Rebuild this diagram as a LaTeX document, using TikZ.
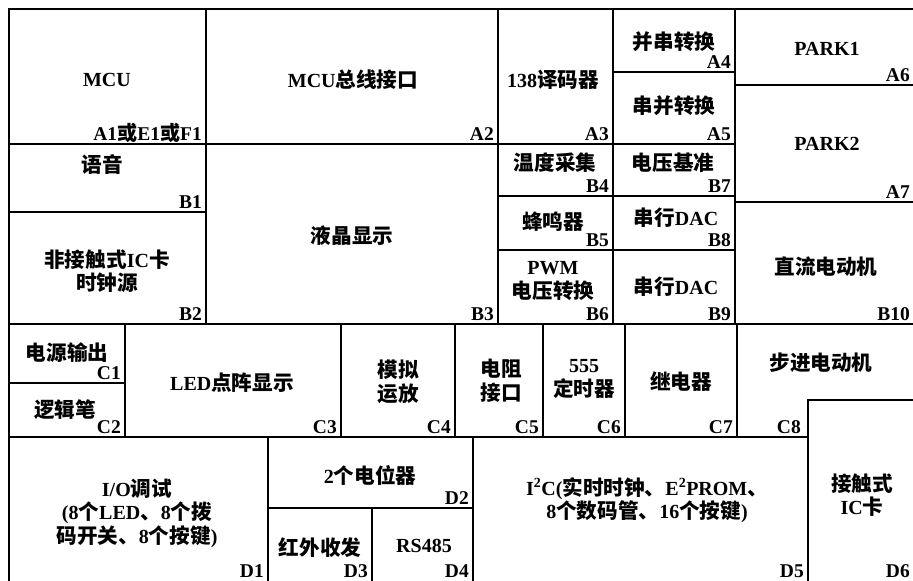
\documentclass[tikz,border=0pt]{standalone}
\usepackage{fontspec}
\setmainfont{Liberation Serif}
\newfontfamily\cjk{Noto Sans CJK SC}[Scale=1.03]
\newcommand\zh[1]{{\cjk #1}}
\begin{document}
\begin{tikzpicture}[x=1pt,y=-1pt,
  grid/.style={line width=2pt,line cap=rect},
  txt/.style={inner sep=0pt,align=center,font=\bfseries\fontsize{20}{23.5}\selectfont},
  lbl/.style={inner sep=0pt,anchor=base east,font=\bfseries\fontsize{19.5}{23}\selectfont}]
\useasboundingbox (0,0) rectangle (913,581);
% frame and dividers
\draw[grid] (9,581) -- (9,9) -- (913,9);
\draw[grid] (9,144) -- (735,144);
\draw[grid] (613,72) -- (735,72);
\draw[grid] (735,85) -- (913,85);
\draw[grid] (735,202) -- (913,202);
\draw[grid] (9,212) -- (206,212);
\draw[grid] (498,196) -- (735,196);
\draw[grid] (498,250) -- (735,250);
\draw[grid] (9,324) -- (913,324);
\draw[grid] (9,383) -- (125,383);
\draw[grid] (9,437) -- (808,437);
\draw[grid] (808,581) -- (808,400) -- (913,400);
\draw[grid] (268,508) -- (473,508);
\draw[grid] (206,9) -- (206,324);
\draw[grid] (498,9) -- (498,324);
\draw[grid] (613,9) -- (613,324);
\draw[grid] (735,9) -- (735,324);
\foreach \x in {125,341,455,543,625,737} \draw[grid] (\x,324) -- (\x,437);
\draw[grid] (268,437) -- (268,581);
\draw[grid] (372,508) -- (372,581);
\draw[grid] (473,437) -- (473,581);
% texts
\node[txt] (mcu) at (107,80) {MCU};
\node[txt] (bus) at (353,80) {MCU\zh{总线接口}};
\node[txt] (dec) at (553,80) {138\zh{译码器}};
\node[txt] (ps) at (674,42) {\zh{并串转换}};
\node[txt] (sp) at (674,106) {\zh{串并转换}};
\node[txt] (park1) at (827,49) {PARK1};
\node[txt] (park2) at (827,144) {PARK2};
\node[txt] (temp) at (555,163) {\zh{温度采集}};
\node[txt] (vref) at (673,163) {\zh{电压基准}};
\node[txt] (voice) at (102,165) {\zh{语音}};
\node[txt] (rfid) at (107,271) {\zh{非接触式}IC\zh{卡}\\\zh{时钟源}};
\node[txt] (lcd) at (352,236) {\zh{液晶显示}};
\node[txt] (buzz) at (553,222) {\zh{蜂鸣器}};
\node[txt] (dac1) at (676,218) {\zh{串行}DAC};
\node[txt] (pwm) at (553,281) {PWM\\\zh{电压转换}};
\node[txt] (dac2) at (676,287) {\zh{串行}DAC};
\node[txt] (dcm) at (826,267) {\zh{直流电动机}};
\node[txt] (pwr) at (67,353) {\zh{电源输出}};
\node[txt] (pen) at (65,410) {\zh{逻辑笔}};
\node[txt] (led) at (232,383) {LED\zh{点阵显示}};
\node[txt] (amp) at (398,382) {\zh{模拟}\\\zh{运放}};
\node[txt] (res) at (501,381) {\zh{电阻}\\\zh{接口}};
\node[txt] (tmr) at (584,379) {555\\\zh{定时器}};
\node[txt] (rly) at (681,382) {\zh{继电器}};
\node[txt] (step) at (821,363) {\zh{步进电动机}};
\node[txt] (io) at (137,513) {I/O\zh{调试}\\(8\zh{个}LED\zh{、}8\zh{个拨}\\\zh{码开关、}8\zh{个按键})};
\node[txt] (pot) at (370,475) {2\zh{个电位器}};
\node[txt] (ir) at (320,548) {\zh{红外收发}};
\node[txt] (rs) at (424,546) {RS485};
\node[txt] (iic) at (647,500) {I\textsuperscript{2}C(\zh{实时时钟、}E\textsuperscript{2}PROM\zh{、}\\8\zh{个数码管、}16\zh{个按键})};
\node[txt] (card) at (862,495) {\zh{接触式}\\IC\zh{卡}};
% labels
\node[lbl] (la1) at (202,140) {A1\zh{或}E1\zh{或}F1};
\node[lbl] (la2) at (494,140) {A2};
\node[lbl] (la3) at (609,140) {A3};
\node[lbl] (la4) at (731,68) {A4};
\node[lbl] (la5) at (731,140) {A5};
\node[lbl] (la6) at (910,81) {A6};
\node[lbl] (la7) at (910,198) {A7};
\node[lbl] (lb1) at (202,208) {B1};
\node[lbl] (lb2) at (202,320) {B2};
\node[lbl] (lb3) at (494,320) {B3};
\node[lbl] (lb4) at (609,192) {B4};
\node[lbl] (lb5) at (609,246) {B5};
\node[lbl] (lb6) at (609,320) {B6};
\node[lbl] (lb7) at (731,192) {B7};
\node[lbl] (lb8) at (731,246) {B8};
\node[lbl] (lb9) at (731,320) {B9};
\node[lbl] (lb10) at (910,320) {B10};
\node[lbl] (lc1) at (121,379) {C1};
\node[lbl] (lc2) at (121,433) {C2};
\node[lbl] (lc3) at (337,433) {C3};
\node[lbl] (lc4) at (451,433) {C4};
\node[lbl] (lc5) at (539,433) {C5};
\node[lbl] (lc6) at (621,433) {C6};
\node[lbl] (lc7) at (733,433) {C7};
\node[lbl] (lc8) at (801,433) {C8};
\node[lbl] (ld1) at (264,577) {D1};
\node[lbl] (ld2) at (469,504) {D2};
\node[lbl] (ld3) at (368,577) {D3};
\node[lbl] (ld4) at (469,577) {D4};
\node[lbl] (ld5) at (804,577) {D5};
\node[lbl] (ld6) at (910,577) {D6};
\end{tikzpicture}
\end{document}
